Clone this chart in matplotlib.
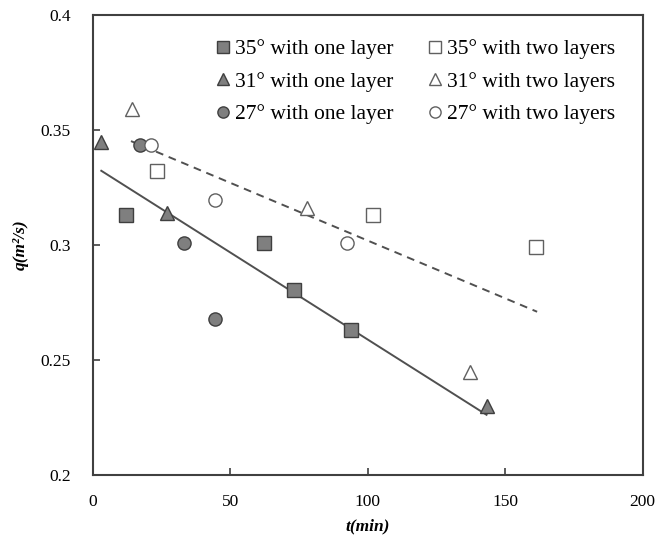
import matplotlib
matplotlib.use("Agg")
import matplotlib.pyplot as plt

plt.rcParams['font.family'] = ['Liberation Serif', 'DejaVu Serif']

# data: t (min), q (m2/s)
t35_one = [12, 62.4, 73, 94]
q35_one = [0.313, 0.301, 0.2805, 0.263]
t31_one = [3, 27, 143.5]
q31_one = [0.345, 0.314, 0.230]
t27_one = [17.3, 33, 44.3]
q27_one = [0.3437, 0.301, 0.268]

t35_two = [23.4, 102, 161.3]
q35_two = [0.332, 0.313, 0.299]
t31_two = [14.2, 77.9, 137.2]
q31_two = [0.359, 0.316, 0.245]
t27_two = [21.2, 44.3, 92.3]
q27_two = [0.3437, 0.3197, 0.301]

# trend lines (end points)
fit_one_t = [3.1, 143.2]
fit_one_q = [0.3323, 0.2262]
fit_two_t = [13.9, 161.6]
fit_two_q = [0.3452, 0.271]

fill = '#7f7f7f'
edge = '#3f3f3f'
oedge = '#606060'

fig = plt.figure(figsize=(6.65, 5.38), dpi=100)
ax = fig.add_axes([0.1395, 0.117, 0.827, 0.855])

ax.plot(fit_one_t, fit_one_q, '-', color='#505050', lw=1.4, zorder=1)
ax.plot(fit_two_t, fit_two_q, '--', color='#505050', lw=1.4, dashes=(4, 3), zorder=1)

h1, = ax.plot(t35_one, q35_one, 's', ms=10, mfc=fill, mec=edge, mew=1.0, ls='none', label='35° with one layer')
h2, = ax.plot(t31_one, q31_one, '^', ms=10, mfc=fill, mec=edge, mew=1.0, ls='none', label='31° with one layer')
h3, = ax.plot(t27_one, q27_one, 'o', ms=9.5, mfc=fill, mec=edge, mew=1.0, ls='none', label='27° with one layer')
h4, = ax.plot(t35_two, q35_two, 's', ms=10, mfc='white', mec=oedge, mew=1.0, ls='none', label='35° with two layers')
h5, = ax.plot(t31_two, q31_two, '^', ms=10, mfc='white', mec=oedge, mew=1.0, ls='none', label='31° with two layers')
h6, = ax.plot(t27_two, q27_two, 'o', ms=9.5, mfc='white', mec=oedge, mew=1.0, ls='none', label='27° with two layers')

leg = ax.legend(handles=[h1, h2, h3, h4, h5, h6], ncol=2, frameon=False,
                loc='upper right', bbox_to_anchor=(0.985, 0.99),
                fontsize=15.5, handlelength=0.7, handletextpad=0.2,
                columnspacing=1.6, labelspacing=0.58, markerscale=0.85)

ax.set_xlim(0, 200)
ax.set_ylim(0.2, 0.4)
ax.set_xticks([0, 50, 100, 150, 200])
ax.set_yticks([0.2, 0.25, 0.3, 0.35, 0.4])
ax.set_yticklabels(['0.2', '0.25', '0.3', '0.35', '0.4'])
ax.tick_params(direction='in', length=5, width=1.2, colors='#404040',
               labelcolor='black', labelsize=12.5, pad=16)
ax.tick_params(axis='x', pad=14)
for s in ax.spines.values():
    s.set_color('#404040')
    s.set_linewidth(1.5)

ax.set_xlabel('t(min)', fontsize=12.5, fontweight='bold', style='italic', labelpad=6)
ax.set_ylabel('q(m²/s)', fontsize=12.5, fontweight='bold', style='italic', labelpad=8)

fig.savefig('out.png', dpi=100)
